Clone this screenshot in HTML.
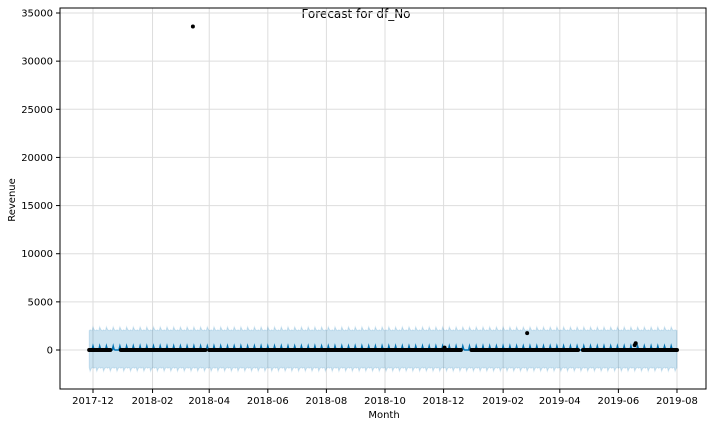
<!DOCTYPE html>
<html><head><meta charset="utf-8"><style>
body{margin:0;background:#fff;font-family:"Liberation Sans","DejaVu Sans",sans-serif;}
svg text{font-family:"DejaVu Sans","Liberation Sans",sans-serif;}
</style></head><body>
<svg id="c" width="712" height="426" xmlns="http://www.w3.org/2000/svg">
<text x="356" y="18" text-anchor="middle" font-size="12">Forecast for df_No</text>
<text x="384" y="418" text-anchor="middle" font-size="10">Month</text>
<text x="15" y="200" text-anchor="middle" font-size="10" transform="rotate(-90 15 200)">Revenue</text>
<g id="grid"></g><g id="band"></g><g id="line"></g><g id="pts"></g><g id="axes"></g>
</svg>
<script>
const yTicks=[0,5000,10000,15000,20000,25000,30000,35000];
const xTickLabels=["2017-12","2018-02","2018-04","2018-06","2018-08","2018-10","2018-12","2019-02","2019-04","2019-06","2019-08"];
const obsRanges=[["2017-11-27","2017-12-19"],["2017-12-30","2018-03-28"],["2018-04-01","2018-12-19"],["2018-12-30","2019-04-20"],["2019-04-25","2019-08-01"]];
const outlierDates=["2018-03-15","2019-02-26","2019-06-18","2019-06-19","2018-12-02"];
const outlierValues=[33600,1750,500,700,250];
const weeklyEffect=[0,0,0,0,0,400,50];
const bandUpper=1950, bandLower=-1750;
const bandWiggle=[100,50,150,80,60,450,200];
const fcStart="2017-11-27", fcEnd="2019-08-01";

const L=60,R=706,T=8,B=389;
const NS="http://www.w3.org/2000/svg";
const d0=Date.parse("2017-12-01");
function dx(s){return 93+(Date.parse(s)-d0)/864e5*0.9605;}
function y(v){return 350-v*(337/35000);}
function mk(p,t,a){const e=document.createElementNS(NS,t);for(const k in a)e.setAttribute(k,a[k]);document.getElementById(p).appendChild(e);return e;}
function days(a,b){const r=[];for(let t=Date.parse(a);t<=Date.parse(b);t+=864e5)r.push(new Date(t).toISOString().slice(0,10));return r;}
function dow(s){return new Date(s).getUTCDay();}
yTicks.forEach(v=>{
 const g=mk('grid','line',{x1:L,x2:R,y1:y(v),y2:y(v),stroke:'#ddd','stroke-width':1});
 
 mk('axes','line',{x1:L-4,x2:L,y1:y(v),y2:y(v),stroke:'#000'});
 const t=mk('axes','text',{x:L-7,y:y(v)+3.5,'text-anchor':'end','font-size':10});t.textContent=v;
 
});
xTickLabels.forEach(s=>{
 const x=dx(s+"-01");
 const g=mk('grid','line',{x1:x,x2:x,y1:T,y2:B,stroke:'#ddd','stroke-width':1});
 
 mk('axes','line',{x1:x,x2:x,y1:B,y2:B+4,stroke:'#000'});
 const t=mk('axes','text',{x:x,y:B+15,'text-anchor':'middle','font-size':10});t.textContent=s;
 
});
const fd=days(fcStart,fcEnd);
let up=[],lo=[],ln=[];
fd.forEach(s=>{const w=dow(s),x=dx(s).toFixed(1);
 up.push(x+','+y(bandUpper+bandWiggle[w]).toFixed(1));
 lo.unshift(x+','+y(bandLower-bandWiggle[(w+3)%7]).toFixed(1));
 ln.push(x+','+y(weeklyEffect[w]).toFixed(1));});
const band=mk('band','polygon',{points:up.concat(lo).join(' '),fill:'#0072B2','fill-opacity':0.2,stroke:'#0072B2','stroke-opacity':0.15});

const fl=mk('line','polyline',{points:ln.join(' '),fill:'none',stroke:'#0072B2','stroke-width':1.5});

obsRanges.forEach(r=>days(r[0],r[1]).forEach(s=>{
 const c=mk('pts','circle',{cx:dx(s),cy:y(0),r:2,fill:'#000'});
 
}));
outlierDates.forEach((s,i)=>{
 const c=mk('pts','circle',{cx:dx(s),cy:y(outlierValues[i]),r:2,fill:'#000'});
 
});
const f=mk('axes','rect',{x:L,y:T,width:R-L,height:B-T,fill:'none',stroke:'#000','stroke-width':1});

</script>
</body></html>
